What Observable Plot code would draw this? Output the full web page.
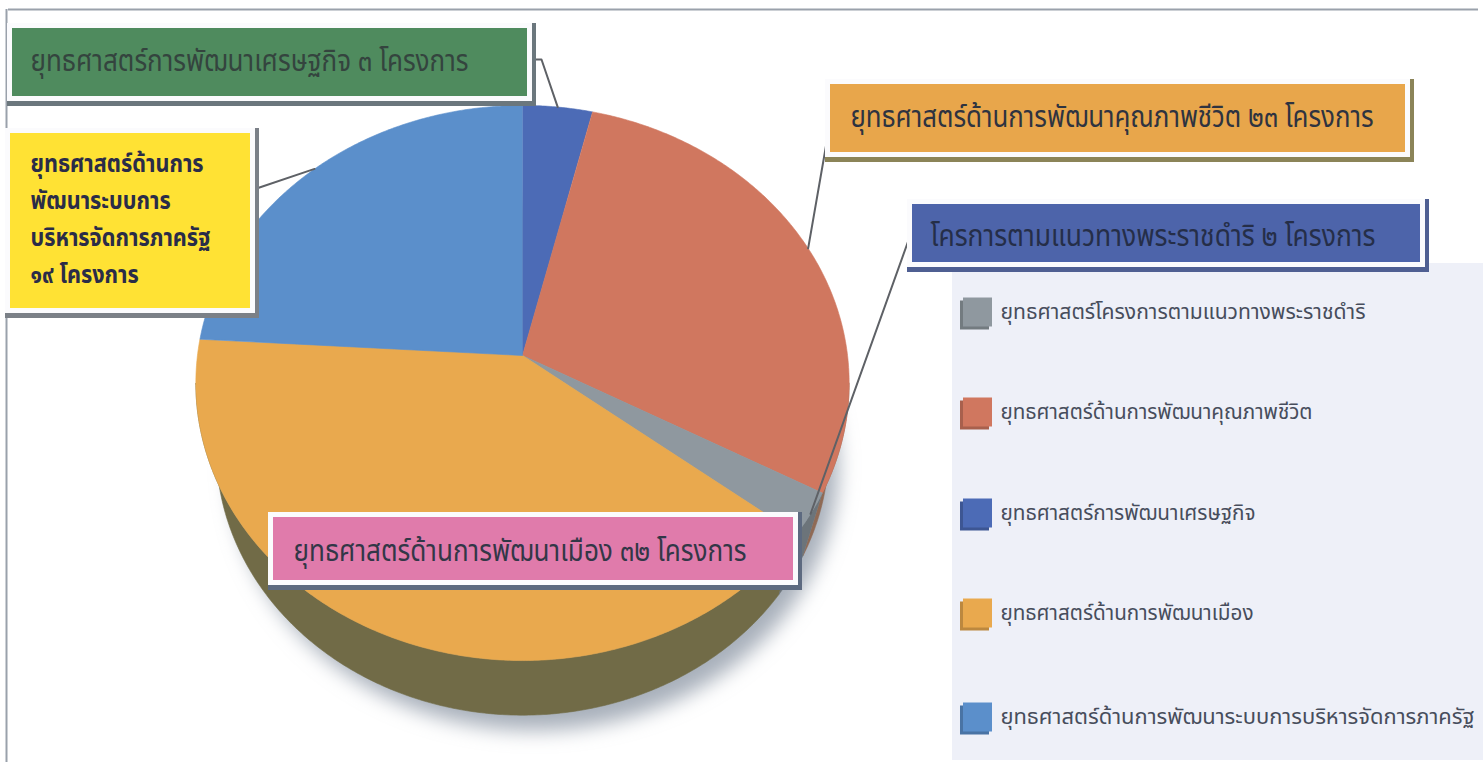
<!DOCTYPE html>
<html>
<head>
<meta charset="utf-8">
<script src="https://cdn.jsdelivr.net/npm/d3@7"></script>
<script src="https://cdn.jsdelivr.net/npm/@observablehq/plot@0.6"></script>
<style>
  html, body { margin: 0; padding: 0; background: #ffffff; }
  #chart { width: 1483px; height: 762px; overflow: hidden; }
</style>
</head>
<body>
<div id="chart"></div>
<script>
// ---------------- DATA ----------------
// Pie slices, clockwise from 12 o'clock
const categories = [
  "ยุทธศาสตร์การพัฒนาเศรษฐกิจ",
  "ยุทธศาสตร์ด้านการพัฒนาคุณภาพชีวิต",
  "ยุทธศาสตร์โครงการตามแนวทางพระราชดำริ",
  "ยุทธศาสตร์ด้านการพัฒนาเมือง",
  "ยุทธศาสตร์ด้านการพัฒนาระบบการบริหารจัดการภาครัฐ"
];
const values = [3, 23, 2, 32, 19];
const sliceColors = ["#4c6bb6", "#d0775f", "#8f989f", "#e9a94e", "#5b8fcb"];
const sideColors  = ["#3e5793", "#8f6a55", "#6c747a", "#716b47", "#46709f"];

// Callout labels (one per slice, same order as categories)
const calloutTexts = [
  "ยุทธศาสตร์การพัฒนาเศรษฐกิจ ๓ โครงการ",
  "ยุทธศาสตร์ด้านการพัฒนาคุณภาพชีวิต ๒๓ โครงการ",
  "โครการตามแนวทางพระราชดำริ ๒ โครงการ",
  "ยุทธศาสตร์ด้านการพัฒนาเมือง ๓๒ โครงการ",
  "ยุทธศาสตร์ด้านการ\nพัฒนาระบบการ\nบริหารจัดการภาครัฐ\n๑๙ โครงการ"
];
const calloutColors = ["#4f8b5e", "#e8a64b", "#4d64aa", "#e07bab", "#ffe234"];

// Legend order (top to bottom)
const legendCategories = [
  "ยุทธศาสตร์โครงการตามแนวทางพระราชดำริ",
  "ยุทธศาสตร์ด้านการพัฒนาคุณภาพชีวิต",
  "ยุทธศาสตร์การพัฒนาเศรษฐกิจ",
  "ยุทธศาสตร์ด้านการพัฒนาเมือง",
  "ยุทธศาสตร์ด้านการพัฒนาระบบการบริหารจัดการภาครัฐ"
];

// ---------------- LAYOUT (positions / styles) ----------------
const W = 1483, H = 762;
const FONT = "'Noto Sans Thai','Noto Sans Thai UI','Loma','Garuda','Norasi','Kinnari','Waree','Umpush','Sawasdee','Tlwg Typo','DejaVu Sans',sans-serif";
const cam = {cx: 522, cy: 355, k: 1752, D: 5.39, sinE: 0.8455, cosE: 0.534, depth: 0.42};
const calloutLayout = [
  {x1: 12,  x2: 527,  y1: 28,  y2: 96,  shadow: "#6b777d", tx: 30,  ty: 61,  size: 30, weight: 400, color: "#34443e", target: 438, anchor: [[534, 59], [541, 59]]},
  {x1: 830, x2: 1405, y1: 84,  y2: 152, shadow: "#8b8458", tx: 850, ty: 117, size: 30, weight: 400, color: "#2e3340", target: 523, anchor: [[828, 131]]},
  {x1: 912, x2: 1420, y1: 204, y2: 262, shadow: "#4f5f92", tx: 930, ty: 236, size: 30, weight: 400, color: "#252e48", target: 445, anchor: [[909, 237]]},
  {x1: 273, x2: 793,  y1: 517, y2: 580, shadow: "#5d6a80", tx: 293, ty: 551, size: 30, weight: 400, color: "#323747", target: 453, anchor: null},
  {x1: 10,  x2: 250,  y1: 133, y2: 308, shadow: "#7b8087", tx: 30,  ty: 163, size: 25, weight: 700, color: "#2a2c48", target: 180, lineStep: 37, anchor: [[256, 188]]}
];
const legendPanel = {x1: 952, x2: 1483, y1: 263, y2: 760, fill: "#eef0f8"};
const legendLayout = {sx1: 963, size: 29, tx: 1000, ys: [312, 412, 513, 613, 717], fontSize: 21.5, color: "#474d5c", targets: [365, 312, 255, 253, 474]};

// ---------------- GEOMETRY (computed from data) ----------------
function projectUV(u, v, h) {
  const yc = v * cam.sinE + h * cam.cosE;
  const zc = cam.D + v * cam.cosE - h * cam.sinE;
  return [cam.cx + cam.k * u / zc, cam.cy - cam.k * yc / zc];
}
const proj = (theta, h) => projectUV(Math.sin(theta), Math.cos(theta), h);
const arcs = d3.pie().sort(null)(values);
const STEP = Math.PI / 360;

const topPts = [];
arcs.forEach((a, i) => {
  const c = projectUV(0, 0, 0);
  topPts.push({key: "t" + i, x: c[0], y: c[1], fill: sliceColors[i]});
  const n = Math.max(2, Math.ceil((a.endAngle - a.startAngle) / STEP));
  for (let j = 0; j <= n; j++) {
    const p = proj(a.startAngle + (a.endAngle - a.startAngle) * j / n, 0);
    topPts.push({key: "t" + i, x: p[0], y: p[1], fill: sliceColors[i]});
  }
});

const thR = Math.acos(-cam.cosE / cam.D), thL = 2 * Math.PI - thR;
const sidePts = [];
arcs.forEach((a, i) => {
  const s = Math.max(a.startAngle, thR), e = Math.min(a.endAngle, thL);
  if (e <= s) return;
  const n = Math.max(2, Math.ceil((e - s) / STEP));
  for (let j = 0; j <= n; j++) {
    const p = proj(s + (e - s) * j / n, 0);
    sidePts.push({key: "s" + i, x: p[0], y: p[1], fill: sideColors[i]});
  }
  for (let j = n; j >= 0; j--) {
    const p = proj(s + (e - s) * j / n, -cam.depth);
    sidePts.push({key: "s" + i, x: p[0], y: p[1], fill: sideColors[i]});
  }
});

const shadowPts = [];
for (let j = 0; j <= 720; j++) {
  const p = proj(2 * Math.PI * j / 720, -cam.depth - 0.06);
  shadowPts.push({x: p[0] + 12, y: p[1] + 8});
}

// leader lines: from box anchor to the rim at each slice's mid-angle
const leaderPts = [];
arcs.forEach((a, i) => {
  const L = calloutLayout[i];
  if (!L.anchor) return;
  L.anchor.forEach(pt => leaderPts.push({key: "l" + i, x: pt[0], y: pt[1]}));
  const rim = proj((a.startAngle + a.endAngle) / 2, 0);
  leaderPts.push({key: "l" + i, x: rim[0], y: rim[1]});
});

// callout boxes
const boxes = calloutLayout.map((L, i) => ({...L, i, fill: calloutColors[i]}));
const calloutTextRows = [];
calloutTexts.forEach((t, i) => {
  const L = calloutLayout[i];
  t.split("\n").forEach((line, j) => calloutTextRows.push({
    text: line, x: L.tx, y: L.ty + j * (L.lineStep || 0), size: L.size, weight: L.weight, color: L.color, group: i, target: L.target
  }));
});

// legend
const legendRows = legendCategories.map((c, j) => {
  const idx = categories.indexOf(c);
  return {text: c, color: sliceColors[idx], shade: d3.color(sliceColors[idx]).darker(0.6).formatHex(), y: legendLayout.ys[j], target: legendLayout.targets[j], weight: 400, group: "g" + j};
});

// ---------------- PLOT ----------------
const chart = Plot.plot({
  width: W, height: H,
  margin: 0,
  x: {domain: [0, W], range: [0, W], axis: null},
  y: {domain: [0, H], range: [0, H], axis: null},
  color: {type: "identity"},
  style: {background: "#ffffff", fontFamily: FONT},
  marks: [
    // outer frame
    Plot.ruleY([9], {x1: 8, x2: 1478, stroke: "#9aa1ab", strokeWidth: 2}),
    Plot.ruleX([6], {y1: 9, y2: H, stroke: "#9aa1ab", strokeWidth: 2}),
    // legend panel
    Plot.rect([legendPanel], {x1: "x1", x2: "x2", y1: "y1", y2: "y2", fill: "fill"}),
    // pie shadow
    Plot.line(shadowPts, {x: "x", y: "y", fill: "#9ea7b4", stroke: "none", fillOpacity: 0.9, ariaLabel: () => "pie-shadow"}),
    // side wall
    Plot.line(sidePts, {x: "x", y: "y", z: "key", fill: "fill", stroke: "fill", strokeWidth: 0.6}),
    // top face
    Plot.line(topPts, {x: "x", y: "y", z: "key", fill: "fill", stroke: "fill", strokeWidth: 0.6}),
    // leader lines
    Plot.line(leaderPts, {x: "x", y: "y", z: "key", stroke: "#5e6166", strokeWidth: 2}),
    // callout boxes: shadow, white frame, fill
    Plot.rect(boxes, {x1: d => d.x1 - 5, x2: d => d.x2 + 9, y1: d => d.y1 - 5, y2: d => d.y2 + 10, fill: "shadow"}),
    Plot.rect(boxes, {x1: d => d.x1 - 5, x2: d => d.x2 + 5, y1: d => d.y1 - 5, y2: d => d.y2 + 5, fill: "#fbfbfd"}),
    Plot.rect(boxes, {x1: "x1", x2: "x2", y1: "y1", y2: "y2", fill: "fill"}),
    Plot.text(calloutTextRows, {x: "x", y: "y", text: "text", fill: "color", fontSize: d => d.size, textAnchor: "start", lineAnchor: "middle", ariaLabel: () => "callout-text"}),
    // legend swatches & labels
    Plot.rect(legendRows, {x1: legendLayout.sx1 - 3, x2: legendLayout.sx1 + legendLayout.size - 3, y1: d => d.y - legendLayout.size / 2 + 3, y2: d => d.y + legendLayout.size / 2 + 3, fill: "shade"}),
    Plot.rect(legendRows, {x1: legendLayout.sx1, x2: legendLayout.sx1 + legendLayout.size, y1: d => d.y - legendLayout.size / 2, y2: d => d.y + legendLayout.size / 2, fill: "color"}),
    Plot.text(legendRows, {x: legendLayout.tx, y: "y", text: "text", fill: legendLayout.color, fontSize: legendLayout.fontSize, textAnchor: "start", lineAnchor: "middle", ariaLabel: () => "legend-text"})
  ]
});
document.getElementById("chart").appendChild(chart);

// ---------------- POST-PROCESS ----------------
try {
  const svg = d3.select(chart);
  const defs = svg.insert("defs", ":first-child");
  defs.append("filter").attr("id", "pieBlur").attr("x", "-20%").attr("y", "-20%").attr("width", "140%").attr("height", "140%")
    .append("feGaussianBlur").attr("stdDeviation", 10);
  svg.selectAll('path[aria-label="pie-shadow"]').attr("filter", "url(#pieBlur)");

  function fit(label, rows) {
    const nodes = svg.selectAll(`text[aria-label="${label}"]`).nodes();
    rows.forEach((r, i) => { if (nodes[i] && r.weight === 700) nodes[i].setAttribute("font-weight", "700"); });
    const nat = nodes.map(n => n.getComputedTextLength());
    const groups = d3.group(rows.map((r, i) => ({...r, i})), r => r.group);
    for (const [, g] of groups) {
      const maxNat = d3.max(g, r => nat[r.i]);
      if (!maxNat) continue;
      const ratio = g[0].target / maxNat;
      g.forEach(r => {
        nodes[r.i].setAttribute("textLength", (nat[r.i] * ratio).toFixed(1));
        nodes[r.i].setAttribute("lengthAdjust", "spacingAndGlyphs");
      });
    }
  }
  fit("callout-text", calloutTextRows);
  fit("legend-text", legendRows);
} catch (e) { console.error(e); }
</script>
</body>
</html>
